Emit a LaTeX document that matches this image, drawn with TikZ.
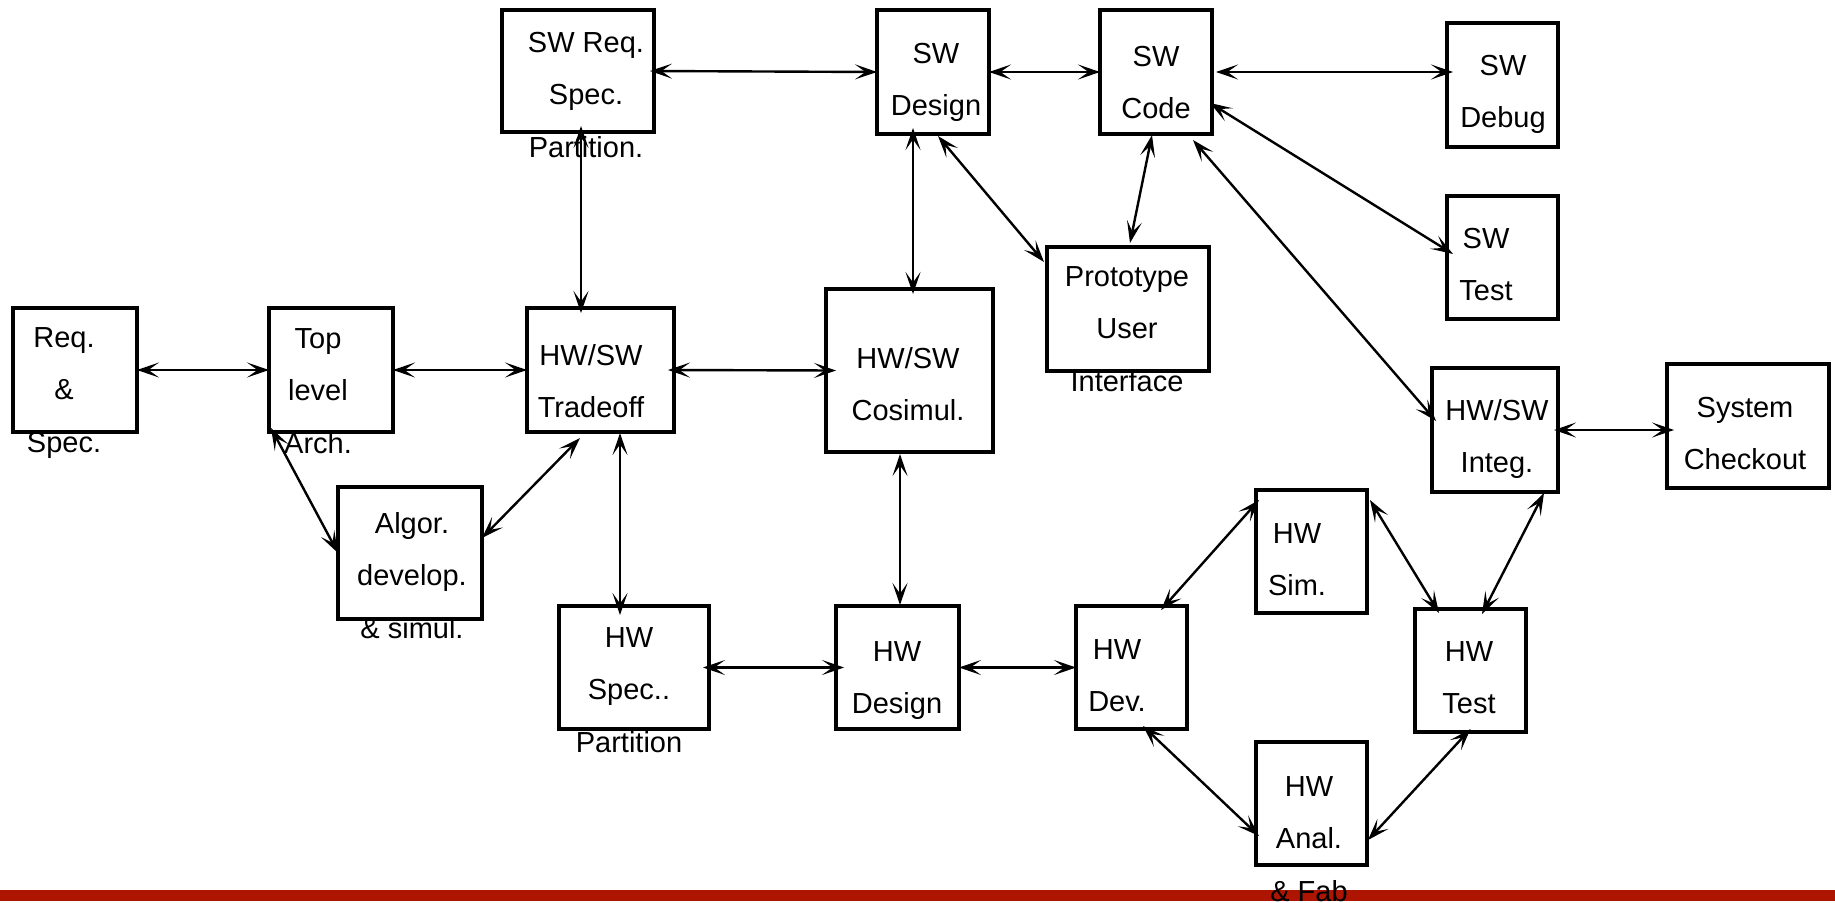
\documentclass[tikz,border=0pt]{standalone}
\usepackage{fontspec}
\setmainfont{Liberation Sans}
\usetikzlibrary{arrows.meta}
\definecolor{barred}{RGB}{174,21,0}
\tikzset{
  bartip/.tip={Stealth[length=22pt,width=15pt,inset=10.5pt]},
  blk/.style={draw, line width=3.1pt, rectangle, inner sep=0pt, outer sep=0pt},
  lbl/.style={anchor=north, inner sep=0pt, align=center,
    font=\fontsize{29}{52.5}\selectfont},
  link/.style={line width=2.4pt, bartip-bartip}
}
\begin{document}
\begin{tikzpicture}[x=1pt,y=-1pt]
\useasboundingbox (0,0) rectangle (1835,902);

% bottom rule
\fill[barred] (0,890) rectangle (1835,901);

% process boxes
\node[blk, minimum width=124pt, minimum height=124pt] (req)     at (75,370) {};
\node[blk, minimum width=124pt, minimum height=124pt] (top)     at (331,370) {};
\node[blk, minimum width=144pt, minimum height=132pt] (algor)   at (410,553) {};
\node[blk, minimum width=152pt, minimum height=122pt] (swreq)   at (578,71) {};
\node[blk, minimum width=147pt, minimum height=124pt] (trade)   at (600.5,370) {};
\node[blk, minimum width=167pt, minimum height=163pt] (cosim)   at (909.5,370.5) {};
\node[blk, minimum width=112pt, minimum height=124pt] (swdes)   at (933,72) {};
\node[blk, minimum width=112pt, minimum height=124pt] (swcode)  at (1156,72) {};
\node[blk, minimum width=111pt, minimum height=124pt] (swdebug) at (1502.5,85) {};
\node[blk, minimum width=111pt, minimum height=123pt] (swtest)  at (1502.5,257.5) {};
\node[blk, minimum width=162pt, minimum height=124pt] (proto)   at (1128,309) {};
\node[blk, minimum width=126pt, minimum height=124pt] (integ)   at (1495,430) {};
\node[blk, minimum width=162pt, minimum height=124pt] (check)   at (1748,426) {};
\node[blk, minimum width=111pt, minimum height=123pt] (hwsim)   at (1311.5,551.5) {};
\node[blk, minimum width=111pt, minimum height=123pt] (hwdev)   at (1131.5,667.5) {};
\node[blk, minimum width=111pt, minimum height=123pt] (hwtest)  at (1470.5,670.5) {};
\node[blk, minimum width=111pt, minimum height=123pt] (hwanal)  at (1311.5,803.5) {};
\node[blk, minimum width=150pt, minimum height=123pt] (hwspec)  at (634,667.5) {};
\node[blk, minimum width=123pt, minimum height=123pt] (hwdes)   at (897.5,667.5) {};

% box texts
\node[lbl] (req-t)     at (64,310.25)    {\strut Req.\\\&\\Spec.};
\node[lbl] (top-t)     at (318,311.25)   {\strut Top\\level\\Arch.};
\node[lbl] (algor-t)   at (412,496.25)   {\strut Algor.\\develop.\\\& simul.};
\node[lbl] (swreq-t)   at (586,15.25)    {\strut SW Req.\\Spec.\\Partition.};
\node[lbl] (trade-t)   at (591,328.25)   {\strut HW/SW\\Tradeoff};
\node[lbl] (cosim-t)   at (908,331.25)   {\strut HW/SW\\Cosimul.};
\node[lbl] (swdes-t)   at (936,26.25)    {\strut SW\\Design};
\node[lbl] (swcode-t)  at (1156,29.25)   {\strut SW\\Code};
\node[lbl] (swdebug-t) at (1503,38.25)   {\strut SW\\Debug};
\node[lbl] (swtest-t)  at (1486,211.25)  {\strut SW\\Test};
\node[lbl] (proto-t)   at (1127,249.25)  {\strut Prototype\\User\\Interface};
\node[lbl] (integ-t)   at (1497,383.25)  {\strut HW/SW\\Integ.};
\node[lbl] (check-t)   at (1745,380.25)  {\strut System\\Checkout};
\node[lbl] (hwsim-t)   at (1297,506.25)  {\strut HW\\Sim.};
\node[lbl] (hwdev-t)   at (1117,622.25)  {\strut HW\\Dev.};
\node[lbl] (hwtest-t)  at (1469,624.25)  {\strut HW\\Test};
\node[lbl] (hwanal-t)  at (1309,759.25)  {\strut HW\\Anal.\\\& Fab};
\node[lbl] (hwspec-t)  at (629,610.25)   {\strut HW\\Spec..\\Partition};
\node[lbl] (hwdes-t)   at (897,624.25)   {\strut HW\\Design};

% two-way links
\draw[link] (req.east) -- (top.west);
\draw[link] (top.east) -- (trade.west);
\draw[link] ([xshift=-6pt]trade.east) -- ([xshift=10pt]cosim.west);
\draw[link] ([xshift=2pt,yshift=4pt]top.south west) -- (algor.west);
\draw[link] ([yshift=15pt]algor.east) -- ([xshift=-20.5pt,yshift=-6pt]trade.south);
\draw[link] ([xshift=3pt,yshift=6pt]swreq.south) -- ([xshift=-19.5pt,yshift=-5pt]trade.north);
\draw[link] ([xshift=19.5pt,yshift=-1pt]trade.south) -- ([xshift=-14pt,yshift=-9pt]hwspec.north);
\draw[link] ([xshift=-4pt]swreq.east) -- (swdes.west);
\draw[link] ([xshift=-20pt,yshift=6pt]swdes.south) -- ([xshift=3.5pt,yshift=-5pt]cosim.north);
\draw[link] ([xshift=5pt,yshift=-2pt]swdes.south) -- ([xshift=-3pt,yshift=-15pt]proto.north west);
\draw[link] (swdes.east) -- (swcode.west);
\draw[link] ([xshift=4pt]swcode.east) -- ([xshift=6pt,yshift=13pt]swdebug.west);
\draw[link] ([xshift=-2pt,yshift=-31pt]swcode.east) -- ([xshift=6pt,yshift=3.5pt]swtest.west);
\draw[link] ([xshift=-4pt,yshift=-1pt]swcode.south) -- ([xshift=2pt,yshift=4pt]proto.north);
\draw[link] ([xshift=-19pt,yshift=-6pt]swcode.south east) -- ([xshift=4pt,yshift=9pt]integ.west);
\draw[link] ([xshift=-4pt]integ.east) -- ([xshift=7pt,yshift=-4pt]check.west);
\draw[link] ([xshift=-9.5pt,yshift=-2pt]cosim.south) -- ([xshift=2.5pt,yshift=1pt]hwdes.north);
\draw[link] ([xshift=-6pt]hwspec.east) -- ([xshift=8pt]hwdes.west);
\draw[link] (hwdes.east) -- (hwdev.west);
\draw[link] ([xshift=29.5pt,yshift=-4pt]hwdev.north) -- ([xshift=3pt,yshift=-10pt]hwsim.north west);
\draw[link] ([xshift=3pt,yshift=-10pt]hwsim.north east) -- ([xshift=-31.5pt,yshift=-4pt]hwtest.north);
\draw[link] ([xshift=49pt,yshift=-1pt]integ.south) -- ([xshift=11.5pt,yshift=-5pt]hwtest.north);
\draw[link] ([xshift=11.5pt,yshift=3pt]hwdev.south) -- ([xshift=3pt,yshift=-32.5pt]hwanal.west);
\draw[link] ([yshift=3pt]hwtest.south) -- ([xshift=1pt,yshift=-36.5pt]hwanal.east);
\end{tikzpicture}
\end{document}
